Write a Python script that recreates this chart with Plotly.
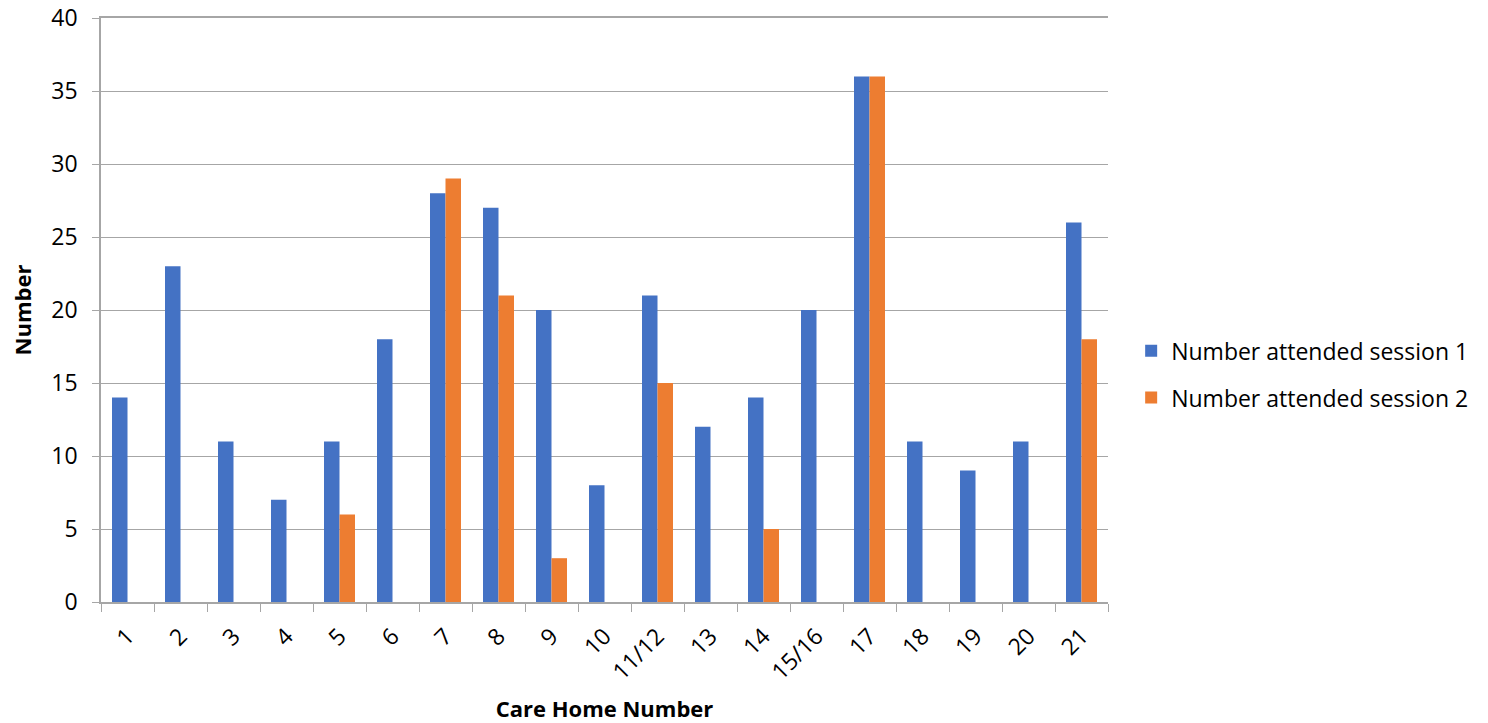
import plotly.graph_objects as go

categories = ["1", "2", "3", "4", "5", "6", "7", "8", "9", "10", "11/12", "13", "14", "15/16", "17", "18", "19", "20", "21"]
session1 = [14, 23, 11, 7, 11, 18, 28, 27, 20, 8, 21, 12, 14, 20, 36, 11, 9, 11, 26]
session2 = [None, None, None, None, 6, None, 29, 21, 3, None, 15, None, 5, None, 36, None, None, None, 18]
y_ticks = [0, 5, 10, 15, 20, 25, 30, 35, 40]

FONT = "Open Sans"

fig = go.Figure()
fig.add_trace(go.Bar(x=categories, y=session1, name="Number attended session 1", legendgroup="s1",
                     marker=dict(color="#4472C4", line=dict(width=0))))
fig.add_trace(go.Bar(x=categories, y=session2, name="Number attended session 2", legendgroup="s2",
                     marker=dict(color="#ED7D31", line=dict(width=0))))

fig.update_layout(
    width=1488, height=723,
    margin=dict(l=101, r=380, t=18, b=121, autoexpand=False),
    paper_bgcolor="white", plot_bgcolor="white",
    barmode="group", bargap=0.415, bargroupgap=0,
    font=dict(family=FONT, size=22, color="#000000"),
    legend=dict(x=1.023, y=0.39, xanchor="left", yanchor="middle",
                font=dict(family=FONT, size=23, color="#000000"),
                itemwidth=30, traceorder="grouped", tracegroupgap=14),
    xaxis=dict(
        type="category", tickangle=-45, ticks="outside", tickson="boundaries", automargin=False,
        ticklen=8, tickcolor="#A6A6A6", showline=True, linecolor="#A6A6A6", linewidth=1.5,
        mirror=True, ticklabelstandoff=10,
        tickfont=dict(family=FONT, size=23, color="#000000"),
        title=dict(text="<b>Care Home Number</b>", font=dict(family=FONT, size=22, color="#000000"), standoff=36),
    ),
    yaxis=dict(
        range=[0, 40], tickvals=y_ticks, ticks="outside", ticklen=7, tickcolor="#A6A6A6", automargin=False,
        showgrid=True, gridcolor="#A6A6A6", gridwidth=1.2, ticklabelstandoff=10,
        ticklabeloverflow="allow",
        showline=True, linecolor="#A6A6A6", linewidth=1.5, zeroline=False,
        tickfont=dict(family=FONT, size=23, color="#000000"),
        title=dict(text="<b>Number</b>", font=dict(family=FONT, size=22, color="#000000"), standoff=14),
    ),
)

fig.write_html("out.html", config={"displayModeBar": False},
               post_script="document.body.style.margin='0';document.body.style.overflow='hidden';")
